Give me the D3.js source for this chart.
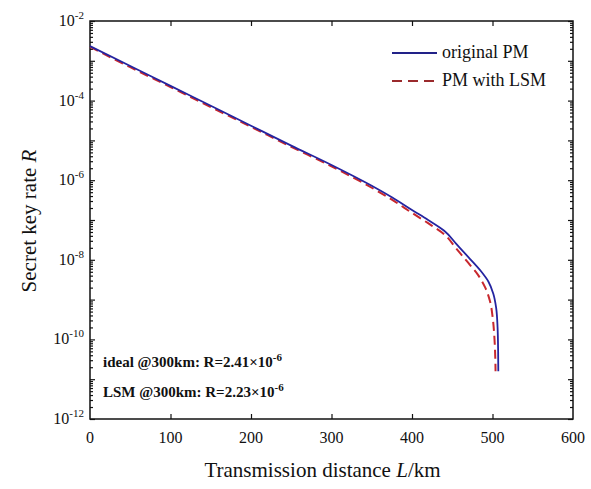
<!DOCTYPE html>
<html>
<head>
<meta charset="utf-8">
<script src="https://cdn.jsdelivr.net/npm/d3@7"></script>
<style>
  body { margin: 0; background: #fff; }
  svg text { font-family: "Liberation Serif", "Times New Roman", "DejaVu Serif", serif !important; fill: #111; }
</style>
</head>
<body>
<svg id="chart" width="591" height="489" font-family="Liberation Serif, serif"></svg>
<script>
"use strict";

// distances (km) and secret key rates
const distOriginal = [0, 50, 100, 150, 200, 250, 300, 350, 375, 400, 420, 440, 455, 470, 485, 495, 501, 504.5, 506.3, 507, 507.2];
const rateOriginal = [2.34e-3, 7.41e-4, 2.34e-4, 7.41e-5, 2.34e-5, 7.41e-6, 2.41e-6, 7.24e-7, 3.72e-7, 1.78e-7,
                      1.0e-7, 5.37e-8, 2.51e-8, 1.17e-8, 5.37e-9, 2.82e-9, 1.41e-9, 6.31e-10, 2.0e-10, 5.0e-11, 1.58e-11];

const distLSM = [0, 50, 100, 150, 200, 250, 300, 350, 375, 400, 420, 440, 455, 470, 482, 491, 497, 500.5, 502.5, 503.5, 503.8];
const rateLSM = [2.24e-3, 6.9e-4, 2.19e-4, 6.9e-5, 2.19e-5, 6.9e-6, 2.23e-6, 6.46e-7, 3.24e-7, 1.51e-7,
                 8.32e-8, 4.37e-8, 1.91e-8, 8.32e-9, 4.17e-9, 2.0e-9, 8.9e-10, 3.16e-10, 1.0e-10, 3.16e-11, 1.58e-11];

const xTicks = [0, 100, 200, 300, 400, 500, 600];
const yTickExponents = [-2, -4, -6, -8, -10, -12];

const legendLabels = ["original PM", "PM with LSM"];
const notes = [
    {label: "ideal @300km: R=2.41\u00d710", exp: "-6"},
    {label: "LSM @300km: R=2.23\u00d710", exp: "-6"}
];

const blue = "#2424a0";
const red = "#c8282e";
const serif = "Liberation Serif, Times New Roman, serif";

const svg = d3.select("#chart");
const margin = {left: 90, right: 18, top: 21, bottom: 70};
const width = 591 - margin.left - margin.right;
const height = 489 - margin.top - margin.bottom;

const g = svg.append("g").attr("transform", `translate(${margin.left},${margin.top})`);

const x = d3.scaleLinear().domain([0, 600]).range([0, width]);
const y = d3.scaleLog().domain([1e-12, 1e-2]).range([height, 0]);

// minor log ticks, one per mantissa in every decade
let minorTicks = [];
for (let e = -12; e < -2; e++) {
    for (let m = 2; m <= 9; m++) {
        minorTicks.push(m * Math.pow(10, e));
    }
}
const decades = d3.range(-12, -1).map(e => Math.pow(10, e));

function drawYTicks(axisFn, offset) {
    g.append("g")
        .attr("transform", `translate(${offset},0)`)
        .call(axisFn(y).tickValues(minorTicks).tickSize(-3).tickFormat(""))
        .call(a => a.select(".domain").remove());
    g.append("g")
        .attr("transform", `translate(${offset},0)`)
        .call(axisFn(y).tickValues(decades).tickSize(-5).tickFormat(""))
        .call(a => a.select(".domain").remove());
}
drawYTicks(d3.axisLeft, 0);
drawYTicks(d3.axisRight, width);

const innerX = xTicks.slice(1, -1);
g.append("g")
    .attr("transform", `translate(0,${height})`)
    .call(d3.axisBottom(x).tickValues(innerX).tickSize(-5).tickFormat(""))
    .call(a => a.select(".domain").remove());
g.append("g")
    .call(d3.axisTop(x).tickValues(innerX).tickSize(-5).tickFormat(""))
    .call(a => a.select(".domain").remove());

g.selectAll(".tick line").attr("stroke", "#111").attr("stroke-width", 1.2);

// frame
g.append("rect")
    .attr("width", width).attr("height", height)
    .attr("fill", "none").attr("stroke", "#111").attr("stroke-width", 1.5);

// x tick labels
g.selectAll(".xlab")
    .data(xTicks)
    .enter().append("text")
    .attr("font-family", serif)
    .attr("x", d => x(d))
    .attr("y", height + 24)
    .attr("text-anchor", "middle")
    .attr("font-size", 16)
    .text(d => d);

// y tick labels with superscript exponents
const ylab = g.selectAll(".ylab")
    .data(yTickExponents)
    .enter().append("text")
    .attr("font-family", serif)
    .attr("x", -6)
    .attr("y", d => y(Math.pow(10, d)) + 5)
    .attr("text-anchor", "end")
    .attr("font-size", 16);
ylab.append("tspan").text("10");
ylab.append("tspan").attr("dy", -7).attr("font-size", 11).text(d => "-" + (-d));

// curves
const line = d3.line()
    .x(d => x(d[0]))
    .y(d => y(d[1]))
    .curve(d3.curveMonotoneY);

g.append("path")
    .datum(d3.zip(distLSM, rateLSM))
    .attr("fill", "none")
    .attr("stroke", red)
    .attr("stroke-width", 2)
    .attr("stroke-dasharray", "9,5")
    .attr("d", line);

g.append("path")
    .datum(d3.zip(distOriginal, rateOriginal))
    .attr("fill", "none")
    .attr("stroke", blue)
    .attr("stroke-width", 1.8)
    .attr("d", line);

// legend
const legend = svg.append("g");
const legendRows = [
    {label: legendLabels[0], color: "#222288", dash: null, y: 53},
    {label: legendLabels[1], color: "#9a2a2c", dash: "10,6", y: 81}
];
legendRows.forEach(r => {
    legend.append("line")
        .attr("x1", 392).attr("x2", 437)
        .attr("y1", r.y).attr("y2", r.y)
        .attr("stroke", r.color).attr("stroke-width", 2)
        .attr("stroke-dasharray", r.dash);
    legend.append("text")
        .attr("font-family", serif)
        .attr("x", 442).attr("y", r.y + 5)
        .attr("font-size", 18)
        .text(r.label);
});

// annotations
notes.forEach((n, i) => {
    const t = svg.append("text")
        .attr("font-family", serif)
        .attr("x", 103)
        .attr("y", 367 + i * 30)
        .attr("font-size", 15)
        .attr("font-weight", "bold");
    t.append("tspan").text(n.label);
    t.append("tspan").attr("dy", -6).attr("font-size", 11).text(n.exp);
});

// axis titles
const xt = svg.append("text")
    .attr("font-family", serif)
    .attr("x", margin.left + width / 2 - 9)
    .attr("y", 477)
    .attr("text-anchor", "middle")
    .attr("font-size", 21);
xt.append("tspan").text("Transmission distance ");
xt.append("tspan").attr("font-style", "italic").text("L");
xt.append("tspan").text("/km");

const yt = svg.append("text")
    .attr("font-family", serif)
    .attr("transform", "translate(36,221) rotate(-90)")
    .attr("text-anchor", "middle")
    .attr("font-size", 21);
yt.append("tspan").text("Secret key rate ");
yt.append("tspan").attr("font-style", "italic").text("R");
</script>
</body>
</html>
